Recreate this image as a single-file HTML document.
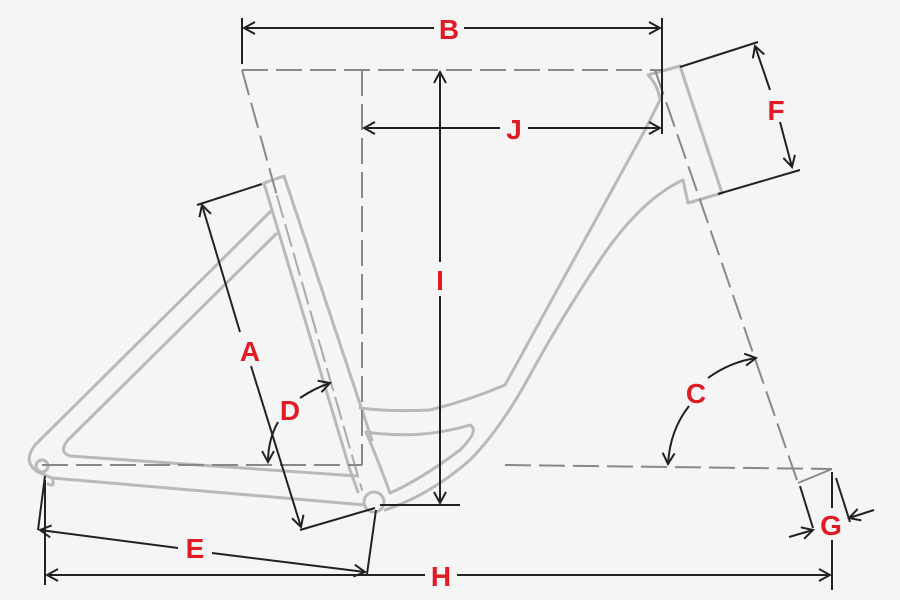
<!DOCTYPE html>
<html><head><meta charset="utf-8"><style>
html,body{margin:0;padding:0;background:#f5f5f5;}
svg{display:block;}
text{font-family:"Liberation Sans",sans-serif;font-weight:bold;fill:#e01b24;font-size:28px;text-anchor:middle;}
</style></head><body>
<svg width="900" height="600" viewBox="0 0 900 600" xmlns="http://www.w3.org/2000/svg">
<rect width="900" height="600" fill="#f5f5f5"/>
<defs>
<marker id="ar" markerWidth="14" markerHeight="14" refX="12" refY="7" orient="auto-start-reverse" markerUnits="userSpaceOnUse">
<path d="M1,1 L12,7 L1,13" fill="none" stroke="#222" stroke-width="2"/>
</marker>
</defs>
<g fill="none" stroke="#b9b9b9" stroke-width="3" stroke-linejoin="round" stroke-linecap="round">
<path d="M264,183 L284,176 L372,440"/>
<path d="M264,183 L272,210 L350,470 L358,492"/>
<path d="M277,196 L362,490" stroke-width="2" stroke-dasharray="22,8" stroke="#aaa"/>
<path d="M272,210 L35,445 Q22,462 38,472 L52,478"/>
<path d="M276,234 L68,440 Q58,452 70,456"/>
<path d="M52,478 Q56,488 48,484"/>
<path d="M70,456 L357,476"/>
<path d="M52,478 L365,505"/>
<circle cx="42" cy="466" r="6"/>
<circle cx="374" cy="502" r="10"/>
<path d="M648,75 L680,66 M648,75 Q658,85 660,100 L645,130 L505,385 Q470,400 430,410 Q390,412 360,408"/>
<path d="M683,180 L688,203 L722,193 M683,180 Q640,200 600,260 Q560,320 530,375 Q500,430 470,460 Q430,495 385,510"/>
<path d="M680,66 L722,193"/>
<path d="M366,432 Q420,440 470,425 Q480,430 460,450 Q420,480 390,493 Q378,460 366,432 Z"/>
</g>
<g fill="none" stroke="#888" stroke-width="2" stroke-dasharray="26,8">
<path d="M242,70 L662,70"/>
<path d="M362,70 L362,465"/>
<path d="M42,465 L362,465"/>
<path d="M505,465 L832,469"/>
<path d="M242,70 L277,196"/>
<path d="M655,70 L798,483"/>
</g>
<path d="M798,483 L832,469" stroke="#888" stroke-width="2" fill="none"/>
<g fill="none" stroke="#222" stroke-width="2">
<path d="M242,18 L242,64 M662,18 L662,134"/>
<path d="M244,28 L434,28 M464,28 L660,28" marker-start="url(#ar)" marker-end="url(#ar)"/>
<path d="M364,128 L500,128" marker-start="url(#ar)"/>
<path d="M528,128 L660,128" marker-end="url(#ar)"/>
<path d="M440,72 L440,262" marker-start="url(#ar)"/>
<path d="M440,296 L440,503" marker-end="url(#ar)"/>
<path d="M380,505 L460,505"/>
<path d="M680,67 L758,42 M718,194 L800,170"/>
<path d="M755,46 L770,90" marker-start="url(#ar)"/>
<path d="M780,122 L792,167" marker-end="url(#ar)"/>
<path d="M197,205 L262,184 M300,530 L375,508"/>
<path d="M202,205 L240,332" marker-start="url(#ar)"/>
<path d="M251,366 L301,527" marker-end="url(#ar)"/>
<path d="M300,398 Q315,388 330,383" marker-end="url(#ar)"/>
<path d="M278,422 Q268,440 268,462" marker-end="url(#ar)"/>
<path d="M708,378 Q730,362 756,358" marker-end="url(#ar)"/>
<path d="M689,406 Q670,430 668,464" marker-end="url(#ar)"/>
<path d="M45,476 L38,530 M376,510 L367,574"/>
<path d="M40,530 L178,548" marker-start="url(#ar)"/>
<path d="M212,553 L365,572" marker-end="url(#ar)"/>
<path d="M45,480 L45,585 M832,472 L832,508 M832,540 L832,590"/>
<path d="M47,575 L425,575" marker-start="url(#ar)"/>
<path d="M457,575 L830,575" marker-end="url(#ar)"/>
<path d="M800,486 L813,528 M836,478 L850,522"/>
<path d="M789,537 L813,530" marker-end="url(#ar)"/>
<path d="M874,510 L849,518" marker-end="url(#ar)"/>
</g>
<text x="449" y="39">B</text>
<text x="514" y="139">J</text>
<text x="440" y="290">I</text>
<text x="776" y="120">F</text>
<text x="250" y="361">A</text>
<text x="290" y="420">D</text>
<text x="696" y="403">C</text>
<text x="195" y="558">E</text>
<text x="441" y="586">H</text>
<text x="831" y="535">G</text>
</svg>
</body></html>
